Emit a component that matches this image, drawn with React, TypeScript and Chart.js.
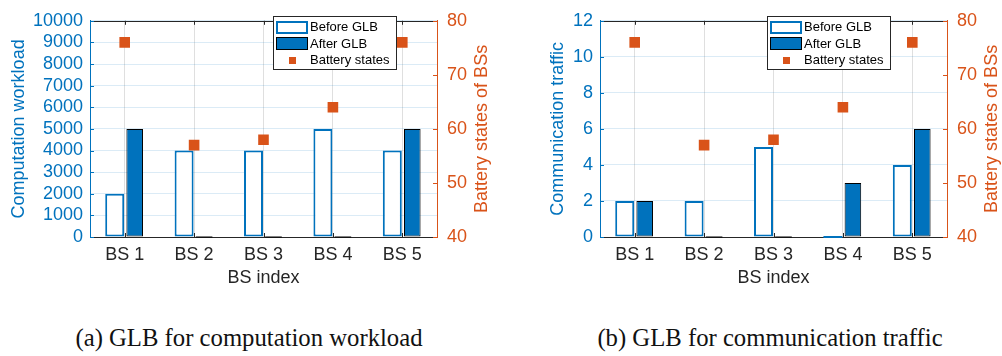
import React, { useEffect, useRef } from "react";
import { Chart, registerables } from "chart.js";

Chart.register(...registerables);

// ---- data ----
const categories = ["BS 1", "BS 2", "BS 3", "BS 4", "BS 5"];
const workloadBefore = [2000, 4000, 4000, 5000, 4000];
const workloadAfter = [5000, 0, 0, 0, 5000];
const trafficBefore = [2, 2, 5, 0, 4];
const trafficAfter = [2, 0, 0, 3, 6];
const batteryStates = [76, 57, 58, 64, 76];
const workloadTicks = [0, 1000, 2000, 3000, 4000, 5000, 6000, 7000, 8000, 9000, 10000];
const trafficTicks = [0, 2, 4, 6, 8, 10, 12];
const batteryTicks = [40, 50, 60, 70, 80];
const legendLabels = ["Before GLB", "After GLB", "Battery states"];

// ---- styling ----
const BLUE = "#0072BD";
const ORANGE = "#D95319";
const DARK = "#262626";
const VGRID = "rgba(38,38,38,0.15)";
const HGRID = "rgba(0,114,189,0.14)";
const SANS = "'Liberation Sans', Arial, Helvetica, sans-serif";
const SERIF = "'Liberation Serif', 'Times New Roman', Times, serif";
const TICK_LEN = 4;

type PanelConfig = {
  left: number;
  width: number;
  height: number;
  leftAxisWidth: number;
  rightAxisWidth: number;
  bottomAxisHeight: number;
  topPad: number;
  before: number[];
  after: number[];
  yTicks: number[];
  yTitle: string;
  yTitlePad: number;
  rightTitleX: number;
  legendX: number;
  caption: string;
  captionCenter: number;
};

const panels: PanelConfig[] = [
  {
    left: 0,
    width: 500,
    height: 290,
    leftAxisWidth: 90,
    rightAxisWidth: 63,
    bottomAxisHeight: 53,
    topPad: 13,
    before: workloadBefore,
    after: workloadAfter,
    yTicks: workloadTicks,
    yTitle: "Computation workload",
    yTitlePad: 8,
    rightTitleX: 482,
    legendX: 273,
    caption: "(a) GLB for computation workload",
    captionCenter: 248.5,
  },
  {
    left: 500,
    width: 502,
    height: 290,
    leftAxisWidth: 100,
    rightAxisWidth: 55,
    bottomAxisHeight: 53,
    topPad: 13,
    before: trafficBefore,
    after: trafficAfter,
    yTicks: trafficTicks,
    yTitle: "Communication traffic",
    yTitlePad: 47,
    rightTitleX: 492,
    legendX: 267,
    caption: "(b) GLB for communication traffic",
    captionCenter: 769.5,
  },
];

function makeDecorPlugin(cfg: PanelConfig) {
  return {
    id: "glbDecor",
    afterDatasetsDraw(chart: any) {
      // zero-valued bars are shown as a flat outline on the baseline
      const ctx = chart.ctx;
      chart.data.datasets.forEach((ds: any, i: number) => {
        const meta = chart.getDatasetMeta(i);
        if (meta.type !== "bar") return;
        meta.data.forEach((el: any, j: number) => {
          if (ds.data[j] !== 0) return;
          const { x, width, base } = el.getProps(["x", "width", "base"], true);
          ctx.save();
          ctx.strokeStyle = ds.borderColor;
          ctx.lineWidth = ds.borderWidth;
          ctx.beginPath();
          ctx.moveTo(x - width / 2, base);
          ctx.lineTo(x + width / 2, base);
          ctx.stroke();
          ctx.restore();
        });
      });
    },
    afterDraw(chart: any) {
      const { ctx, chartArea: a, scales } = chart;
      const px = (v: number) => Math.round(v) + 0.5;
      const seg = (x1: number, y1: number, x2: number, y2: number) => {
        ctx.beginPath();
        ctx.moveTo(x1, y1);
        ctx.lineTo(x2, y2);
        ctx.stroke();
      };
      ctx.save();
      ctx.lineWidth = 1;

      // top frame line
      ctx.strokeStyle = DARK;
      seg(a.left, px(a.top), a.right, px(a.top));

      // inward tick marks
      scales.x.ticks.forEach((_: any, i: number) => {
        const x = px(scales.x.getPixelForTick(i));
        seg(x, a.bottom, x, a.bottom - TICK_LEN);
        seg(x, a.top, x, a.top + TICK_LEN);
      });
      ctx.strokeStyle = BLUE;
      scales.y.ticks.forEach((t: any) => {
        const y = px(scales.y.getPixelForValue(t.value));
        seg(a.left, y, a.left + TICK_LEN, y);
      });
      ctx.strokeStyle = ORANGE;
      scales.y1.ticks.forEach((t: any) => {
        const y = px(scales.y1.getPixelForValue(t.value));
        seg(a.right - TICK_LEN, y, a.right, y);
      });

      // right axis title, reading bottom to top
      ctx.save();
      ctx.fillStyle = ORANGE;
      ctx.font = `18px ${SANS}`;
      ctx.translate(cfg.rightTitleX, (a.top + a.bottom) / 2);
      ctx.rotate(-Math.PI / 2);
      ctx.textAlign = "center";
      ctx.textBaseline = "middle";
      ctx.fillText("Battery states of BSs", 0, 0);
      ctx.restore();

      // legend box
      const bx = cfg.legendX;
      const by = 16;
      const bw = 124;
      const bh = 54;
      ctx.fillStyle = "#ffffff";
      ctx.fillRect(bx, by, bw, bh);
      ctx.strokeStyle = DARK;
      ctx.lineWidth = 1;
      ctx.strokeRect(bx + 0.5, by + 0.5, bw - 1, bh - 1);

      ctx.strokeStyle = BLUE;
      ctx.lineWidth = 2;
      ctx.strokeRect(bx + 4, by + 6, 30, 11);

      ctx.fillStyle = BLUE;
      ctx.fillRect(bx + 3, by + 21, 32, 13);
      ctx.strokeStyle = "#000000";
      ctx.lineWidth = 1;
      ctx.strokeRect(bx + 3.5, by + 21.5, 31, 12);

      ctx.fillStyle = ORANGE;
      ctx.fillRect(bx + 16, by + 41, 7, 7);

      ctx.fillStyle = "#000000";
      ctx.font = `13px ${SANS}`;
      ctx.textAlign = "left";
      ctx.textBaseline = "middle";
      ctx.fillText(legendLabels[0], bx + 37, by + 11.5);
      ctx.fillText(legendLabels[1], bx + 37, by + 28);
      ctx.fillText(legendLabels[2], bx + 37, by + 44.5);

      ctx.restore();
    },
  };
}

function GlbPanel({ cfg }: { cfg: PanelConfig }) {
  const canvasRef = useRef<HTMLCanvasElement | null>(null);

  useEffect(() => {
    const canvas = canvasRef.current;
    if (!canvas) return;
    const font = { family: SANS, size: 18 };
    const chart = new Chart(canvas, {
      type: "bar",
      data: {
        labels: categories,
        datasets: [
          {
            type: "line",
            label: legendLabels[2],
            data: batteryStates,
            yAxisID: "y1",
            showLine: false,
            pointStyle: "rect",
            pointRadius: 7.5,
            pointBorderWidth: 0,
            pointBackgroundColor: ORANGE,
            pointBorderColor: ORANGE,
            order: -1,
          } as any,
          {
            type: "bar",
            label: legendLabels[0],
            data: cfg.before,
            yAxisID: "y",
            backgroundColor: "#ffffff",
            borderColor: BLUE,
            borderWidth: 2,
            borderSkipped: false,
            categoryPercentage: 0.576,
            barPercentage: 0.95,
            order: 1,
          },
          {
            type: "bar",
            label: legendLabels[1],
            data: cfg.after,
            yAxisID: "y",
            backgroundColor: BLUE,
            borderColor: "#000000",
            borderWidth: 1,
            borderSkipped: false,
            categoryPercentage: 0.576,
            barPercentage: 0.83,
            order: 1,
          },
        ],
      },
      options: {
        responsive: false,
        animation: false,
        devicePixelRatio: 1,
        events: [],
        layout: { padding: { top: cfg.topPad, left: 0, right: 0, bottom: 0 } },
        plugins: {
          legend: { display: false },
          tooltip: { enabled: false },
        },
        scales: {
          x: {
            type: "category",
            offset: true,
            grid: { offset: false, color: VGRID, lineWidth: 1, drawTicks: false },
            border: { color: DARK, width: 1 },
            ticks: { color: DARK, font, padding: 7, maxRotation: 0, autoSkip: false },
            title: {
              display: true,
              text: "BS index",
              color: DARK,
              font,
              padding: { top: 0, bottom: 1 },
            },
            afterFit: (s: any) => {
              s.height = cfg.bottomAxisHeight;
            },
          },
          y: {
            type: "linear",
            position: "left",
            min: cfg.yTicks[0],
            max: cfg.yTicks[cfg.yTicks.length - 1],
            afterBuildTicks: (s: any) => {
              s.ticks = cfg.yTicks.map((v) => ({ value: v }));
            },
            ticks: {
              color: BLUE,
              font,
              padding: 7,
              autoSkip: false,
              callback: (v: any) => String(v),
            },
            grid: { color: HGRID, lineWidth: 1, drawTicks: false },
            border: { color: BLUE, width: 1 },
            title: {
              display: true,
              text: cfg.yTitle,
              color: BLUE,
              font,
              padding: { top: cfg.yTitlePad, bottom: 0 },
            },
            afterFit: (s: any) => {
              s.width = cfg.leftAxisWidth;
            },
          },
          y1: {
            type: "linear",
            position: "right",
            min: batteryTicks[0],
            max: batteryTicks[batteryTicks.length - 1],
            afterBuildTicks: (s: any) => {
              s.ticks = batteryTicks.map((v) => ({ value: v }));
            },
            ticks: {
              color: ORANGE,
              font,
              padding: 10,
              autoSkip: false,
              callback: (v: any) => String(v),
            },
            grid: { display: false, drawTicks: false },
            border: { color: ORANGE, width: 1 },
            afterFit: (s: any) => {
              s.width = cfg.rightAxisWidth;
            },
          },
        },
      } as any,
      plugins: [makeDecorPlugin(cfg)],
    });
    return () => chart.destroy();
  }, [cfg]);

  return (
    <>
      <canvas
        ref={canvasRef}
        width={cfg.width}
        height={cfg.height}
        style={{ position: "absolute", left: cfg.left, top: 0, width: cfg.width, height: cfg.height }}
      />
      <div
        style={{
          position: "absolute",
          left: cfg.captionCenter - 220,
          width: 440,
          top: 325,
          textAlign: "center",
          whiteSpace: "nowrap",
          fontFamily: SERIF,
          fontSize: 26,
          lineHeight: "26px",
          color: "#111111",
          transform: "scaleX(0.95)",
          transformOrigin: "center",
        }}
      >
        {cfg.caption}
      </div>
    </>
  );
}

export default function App() {
  return (
    <div
      style={{
        position: "absolute",
        left: 0,
        top: 0,
        width: 1002,
        height: 356,
        background: "#ffffff",
        overflow: "hidden",
      }}
    >
      {panels.map((p) => (
        <GlbPanel key={p.caption} cfg={p} />
      ))}
    </div>
  );
}
